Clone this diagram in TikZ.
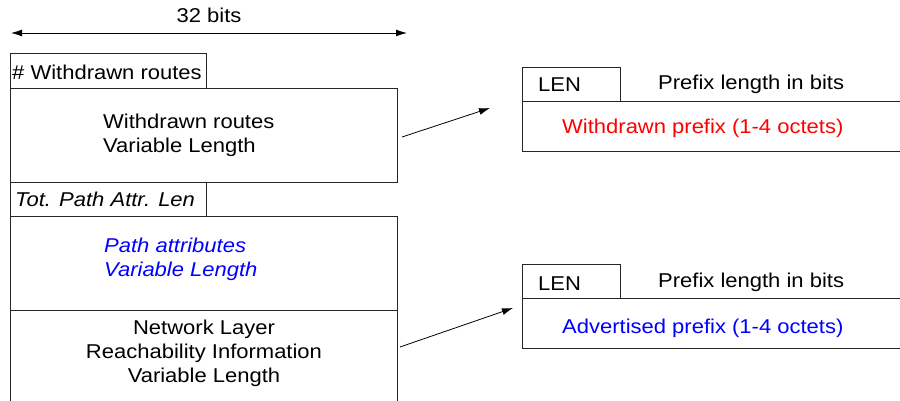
\documentclass[tikz,border=0pt]{standalone}
\usepackage{fontspec}
\setmainfont{Liberation Sans}[FakeStretch=1.1]
\usetikzlibrary{arrows.meta}
\begin{document}
\begin{tikzpicture}[x=1pt,y=-1pt,
  box/.style={draw=black!85,line width=0.9pt,anchor=north west,inner sep=0pt,outer sep=0pt},
  lbl/.style={inner sep=0pt,font=\fontsize{20}{24}\selectfont},
  conn/.style={draw=black,line width=0.8pt,-{Latex[length=11pt,width=7pt]}}]
\useasboundingbox (0,0) rectangle (900,401);
\clip (0,0) rectangle (900,401);
% dimension arrow
\coordinate (dl) at (11,33);
\coordinate (dr) at (407,33);
\draw[line width=0.8pt,{Latex[length=11pt,width=7pt]}-{Latex[length=11pt,width=7pt]}] (dl) -- (dr);
\node[lbl,anchor=base] (bits) at (209,23) {32 bits};
% left column
\node[box,minimum width=196pt,minimum height=35pt] (nwr) at (10,53) {};
\node[lbl,anchor=base west] (nwrt) at (12,80) {\# Withdrawn routes};
\node[box,minimum width=387pt,minimum height=94pt] (wr) at (10,88) {};
\node[lbl,anchor=base west,align=left] (wrt) at (103,153) {Withdrawn routes\\Variable Length};
\node[box,minimum width=196pt,minimum height=34pt] (tpa) at (10,182) {};
\node[lbl,anchor=base west] (tpat) at (15,207) {\itshape Tot. Path Attr. Len};
\node[box,minimum width=387pt,minimum height=94pt] (pa) at (10,216) {};
\node[lbl,anchor=base west,align=left,text=blue,font=\fontsize{20}{24}\selectfont\itshape] (pat) at (104,276) {Path attributes\\Variable Length};
\node[box,minimum width=387pt,minimum height=120pt] (nlri) at (10,310) {};
\node[lbl,anchor=base,align=center] (nlrit) at (204,382) {Network Layer\\Reachability Information\\Variable Length};
% right top
\node[box,minimum width=98pt,minimum height=34pt] (len1) at (522,67) {};
\node[lbl,anchor=base west] (len1t) at (538,92) {LEN};
\node[lbl,anchor=base west] (pl1) at (658,90) {Prefix length in bits};
\node[box,minimum width=420pt,minimum height=50pt] (wp) at (522,101) {};
\node[lbl,anchor=base west,text=red] (wpt) at (562,134) {Withdrawn prefix (1-4 octets)};
% right bottom
\node[box,minimum width=98pt,minimum height=34pt] (len2) at (522,264) {};
\node[lbl,anchor=base west] (len2t) at (538,290) {LEN};
\node[lbl,anchor=base west] (pl2) at (658,287) {Prefix length in bits};
\node[box,minimum width=420pt,minimum height=50pt] (ap) at (522,298) {};
\node[lbl,anchor=base west,text=blue] (apt) at (562,333) {Advertised prefix (1-4 octets)};
% connectors
\coordinate (a1) at (490,108);
\coordinate (a2) at (513,308);
\draw[conn] ([xshift=5pt,yshift=-2pt]wr.east) -- (a1);
\draw[conn] ([xshift=3pt]nlri.east |- 0,347) -- (a2);
\end{tikzpicture}
\end{document}
